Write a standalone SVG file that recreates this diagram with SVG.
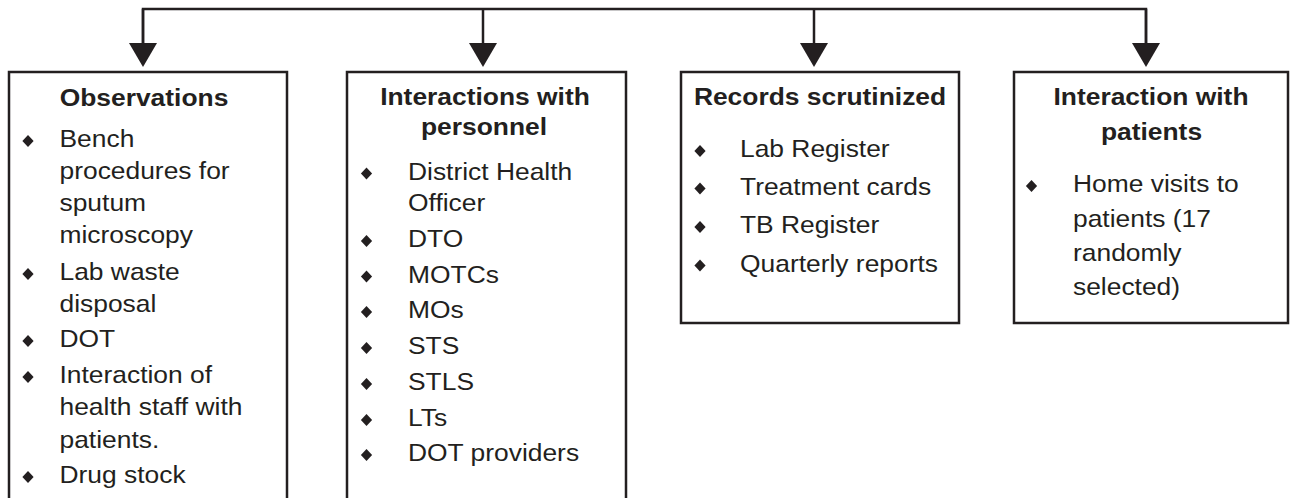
<svg xmlns="http://www.w3.org/2000/svg" width="1290" height="498" viewBox="0 0 1290 498">
  <style>
    .box { fill: #ffffff; stroke: #231f20; stroke-width: 2.5; }
    .conn { fill: none; stroke: #231f20; stroke-width: 2.5; }
    .title { font-family: "Liberation Sans", Arial, sans-serif; font-size: 24px; font-weight: bold; fill: #231f20; text-anchor: middle; }
    .item { font-family: "Liberation Sans", Arial, sans-serif; font-size: 24px; fill: #231f20; }
    .dot { fill: #231f20; }
  </style>
  <defs>
    <marker id="arrow" markerUnits="userSpaceOnUse" markerWidth="24" markerHeight="28" viewBox="0 0 24 28" refX="2" refY="14" orient="auto">
      <path d="M0,0 L24,14 L0,28 Z" fill="#231f20"/>
    </marker>
    <polygon id="bullet" points="0,-6 5.6,0 0,6 -5.6,0"/>
  </defs>

  <g id="connectors">
    <path class="conn" d="M143,45 V9 H1146 V45" stroke-linejoin="miter"/>
    <line class="conn" x1="143" y1="9" x2="143" y2="45" marker-end="url(#arrow)"/>
    <line class="conn" x1="483" y1="9" x2="483" y2="45" marker-end="url(#arrow)"/>
    <line class="conn" x1="814" y1="9" x2="814" y2="45" marker-end="url(#arrow)"/>
    <line class="conn" x1="1146" y1="9" x2="1146" y2="45" marker-end="url(#arrow)"/>
  </g>

  <g id="observations">
    <rect class="box" x="9" y="72" width="278" height="440"/>
    <text class="title" transform="translate(144 106) scale(1.1 1)">Observations</text>
    <use href="#bullet" class="dot" x="28" y="141"/>
    <text class="item" transform="translate(59.5 147) scale(1.1 1)">Bench</text>
    <text class="item" transform="translate(59.5 179) scale(1.1 1)">procedures for</text>
    <text class="item" transform="translate(59.5 211) scale(1.1 1)">sputum</text>
    <text class="item" transform="translate(59.5 243) scale(1.1 1)">microscopy</text>
    <use href="#bullet" class="dot" x="28" y="274"/>
    <text class="item" transform="translate(59.5 280) scale(1.1 1)">Lab waste</text>
    <text class="item" transform="translate(59.5 312) scale(1.1 1)">disposal</text>
    <use href="#bullet" class="dot" x="28" y="341"/>
    <text class="item" transform="translate(59.5 347) scale(1.1 1)">DOT</text>
    <use href="#bullet" class="dot" x="28" y="377"/>
    <text class="item" transform="translate(59.5 383) scale(1.1 1)">Interaction of</text>
    <text class="item" transform="translate(59.5 415) scale(1.1 1)">health staff with</text>
    <text class="item" transform="translate(59.5 448) scale(1.1 1)">patients.</text>
    <use href="#bullet" class="dot" x="28" y="477"/>
    <text class="item" transform="translate(59.5 483) scale(1.1 1)">Drug stock</text>
  </g>

  <g id="personnel">
    <rect class="box" x="347" y="72" width="279" height="440"/>
    <text class="title" transform="translate(485 105) scale(1.1 1)">Interactions with</text>
    <text class="title" transform="translate(484 135) scale(1.1 1)">personnel</text>
    <use href="#bullet" class="dot" x="366.5" y="173.5"/>
    <text class="item" transform="translate(408 179.5) scale(1.1 1)">District Health</text>
    <text class="item" transform="translate(408 211) scale(1.1 1)">Officer</text>
    <use href="#bullet" class="dot" x="366.5" y="241"/>
    <text class="item" transform="translate(408 247) scale(1.1 1)">DTO</text>
    <use href="#bullet" class="dot" x="366.5" y="276.5"/>
    <text class="item" transform="translate(408 282.5) scale(1.1 1)">MOTCs</text>
    <use href="#bullet" class="dot" x="366.5" y="312"/>
    <text class="item" transform="translate(408 318) scale(1.1 1)">MOs</text>
    <use href="#bullet" class="dot" x="366.5" y="348"/>
    <text class="item" transform="translate(408 354) scale(1.1 1)">STS</text>
    <use href="#bullet" class="dot" x="366.5" y="384"/>
    <text class="item" transform="translate(408 390) scale(1.1 1)">STLS</text>
    <use href="#bullet" class="dot" x="366.5" y="420"/>
    <text class="item" transform="translate(408 426) scale(1.1 1)">LTs</text>
    <use href="#bullet" class="dot" x="366.5" y="455"/>
    <text class="item" transform="translate(408 461) scale(1.1 1)">DOT providers</text>
  </g>

  <g id="records">
    <rect class="box" x="681" y="72" width="278" height="251"/>
    <text class="title" transform="translate(820 105) scale(1.1 1)">Records scrutinized</text>
    <use href="#bullet" class="dot" x="700" y="151"/>
    <text class="item" transform="translate(740 156.5) scale(1.1 1)">Lab Register</text>
    <use href="#bullet" class="dot" x="700" y="188.5"/>
    <text class="item" transform="translate(740 194.5) scale(1.1 1)">Treatment cards</text>
    <use href="#bullet" class="dot" x="700" y="227"/>
    <text class="item" transform="translate(740 233) scale(1.1 1)">TB Register</text>
    <use href="#bullet" class="dot" x="700" y="265.5"/>
    <text class="item" transform="translate(740 271.5) scale(1.1 1)">Quarterly reports</text>
  </g>

  <g id="patients">
    <rect class="box" x="1014" y="72" width="274" height="251"/>
    <text class="title" transform="translate(1151 105) scale(1.1 1)">Interaction with</text>
    <text class="title" transform="translate(1151.5 140) scale(1.1 1)">patients</text>
    <use href="#bullet" class="dot" x="1031.5" y="186"/>
    <text class="item" transform="translate(1073 192) scale(1.1 1)">Home visits to</text>
    <text class="item" transform="translate(1073 226.5) scale(1.1 1)">patients (17</text>
    <text class="item" transform="translate(1073 261) scale(1.1 1)">randomly</text>
    <text class="item" transform="translate(1073 295) scale(1.1 1)">selected)</text>
  </g>
</svg>
